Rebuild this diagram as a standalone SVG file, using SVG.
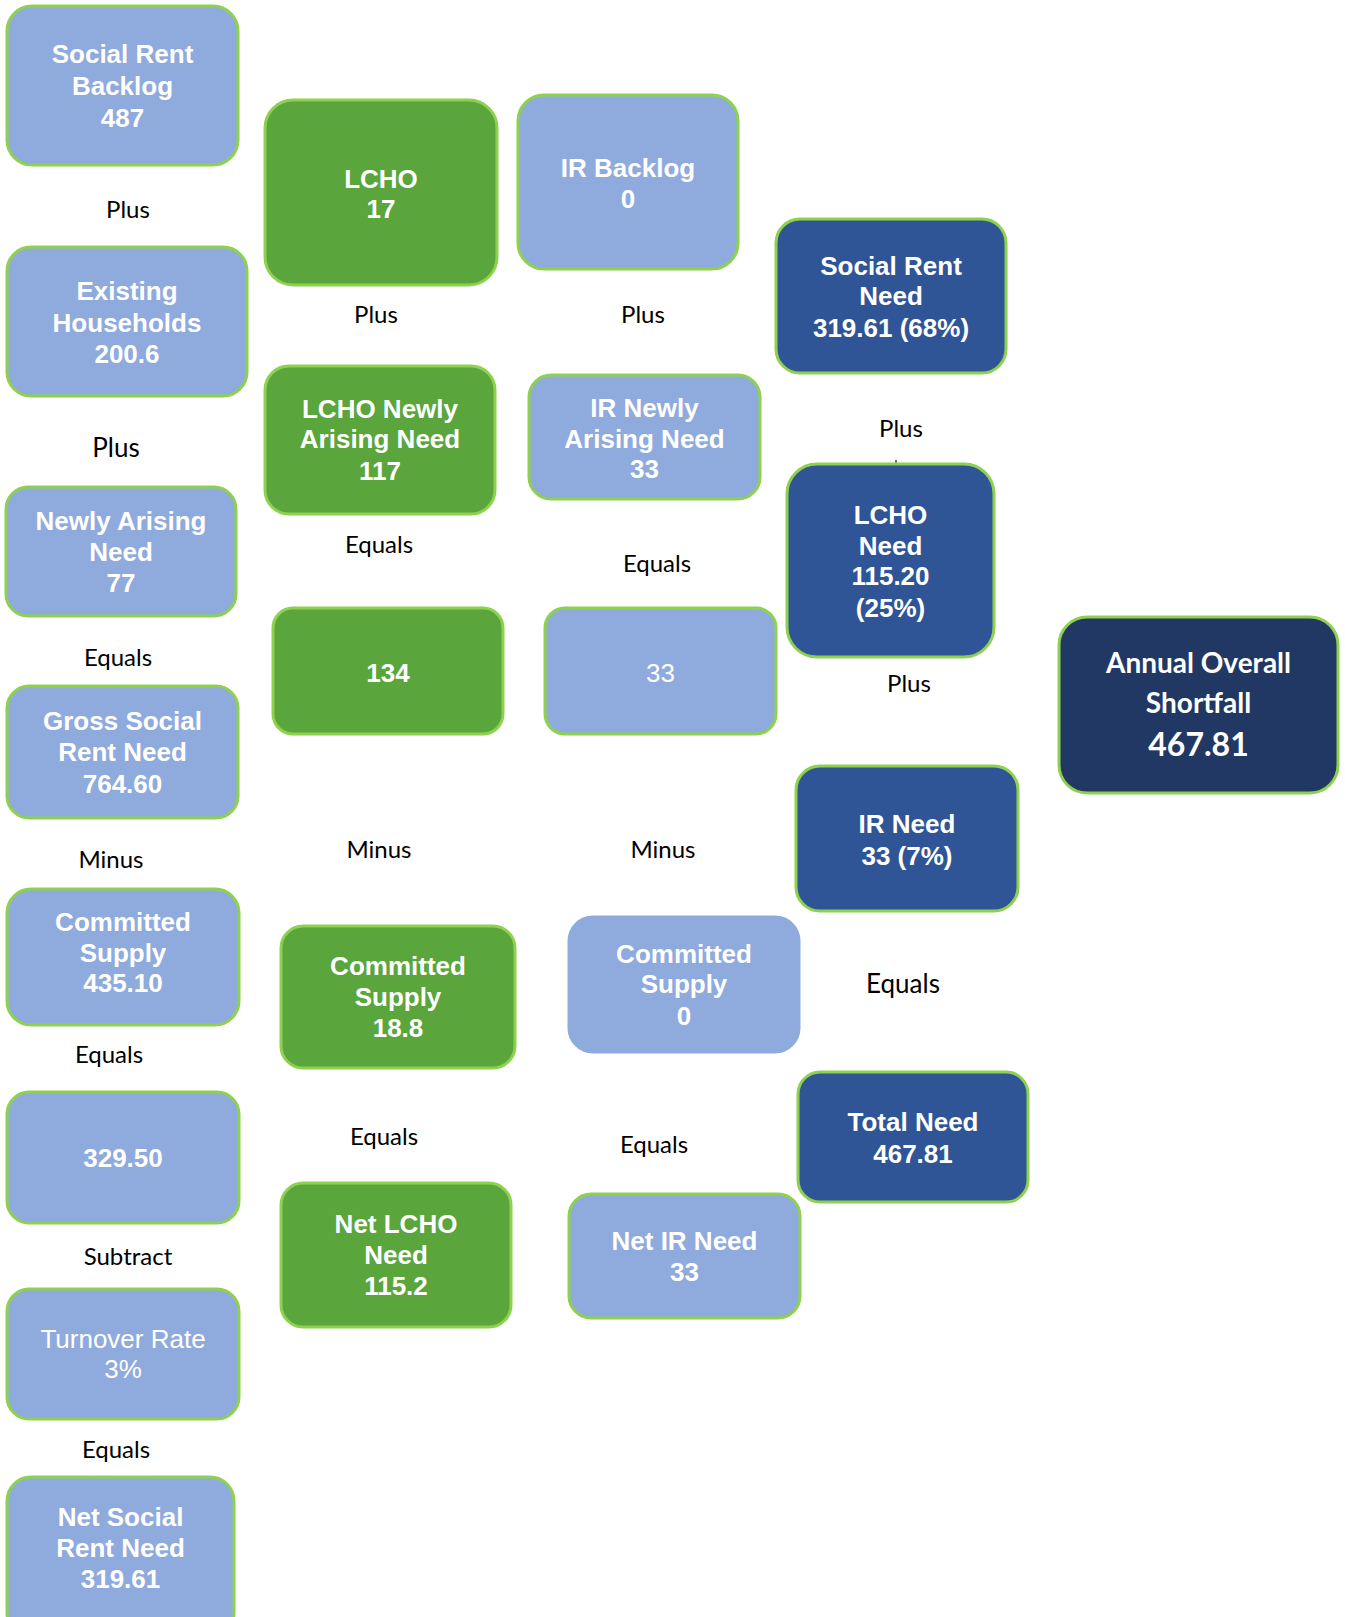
<svg xmlns="http://www.w3.org/2000/svg" width="1345" height="1617" viewBox="0 0 1345 1617">
<style>
.b{stroke:#8ED14F;stroke-width:3}
.lb{fill:#8FAADC}
.gr{fill:#5AA53C}
.db{fill:#2F5597}
.nv{fill:#213864}
.t{font-family:"Liberation Sans",Arial,sans-serif;font-weight:bold;font-size:26px;fill:#fff;text-anchor:middle}
.n{font-weight:normal}
.c{font-family:Lato,"Open Sans",sans-serif;font-weight:bold;fill:#fff;text-anchor:middle}
.lab{font-family:Lato,"Open Sans",sans-serif;font-size:24px;fill:#000;text-anchor:middle}
</style>
<rect width="1345" height="1617" fill="#fff"/>
<g id="connectors">
<line x1="896" y1="460" x2="896" y2="464" stroke="#404040" stroke-width="1.5"/>
</g>
<g id="labels">
<text class="lab" x="128" y="218">Plus</text>
<text class="lab" x="376" y="323">Plus</text>
<text class="lab" x="643" y="323">Plus</text>
<text class="lab" x="116" y="457" style="font-size:26px">Plus</text>
<text class="lab" x="901" y="437">Plus</text>
<text class="lab" x="379" y="553">Equals</text>
<text class="lab" x="657" y="572">Equals</text>
<text class="lab" x="118" y="666">Equals</text>
<text class="lab" x="909" y="692">Plus</text>
<text class="lab" x="111" y="868">Minus</text>
<text class="lab" x="379" y="858">Minus</text>
<text class="lab" x="663" y="858">Minus</text>
<text class="lab" x="903" y="993" style="font-size:26px">Equals</text>
<text class="lab" x="109" y="1063">Equals</text>
<text class="lab" x="384" y="1145">Equals</text>
<text class="lab" x="654" y="1153">Equals</text>
<text class="lab" x="128" y="1265">Subtract</text>
<text class="lab" x="116" y="1458">Equals</text>
</g>
<g id="social-rent-backlog"><rect class="b lb" x="7" y="6" width="231" height="159" rx="25"/>
<text class="t" x="122.5" y="63">Social Rent</text><text class="t" x="122.5" y="95">Backlog</text><text class="t" x="122.5" y="127">487</text></g>
<g id="lcho"><rect class="b gr" x="265" y="100" width="232" height="185" rx="28"/>
<text class="t" x="381" y="188">LCHO</text><text class="t" x="381" y="218">17</text></g>
<g id="ir-backlog"><rect class="b lb" x="518" y="95" width="220" height="174" rx="26"/>
<text class="t" x="628" y="177">IR Backlog</text><text class="t" x="628" y="208">0</text></g>
<g id="social-rent-need"><rect class="b db" x="776" y="219" width="230" height="154" rx="24"/>
<text class="t" x="891" y="275">Social Rent</text><text class="t" x="891" y="305">Need</text><text class="t" x="891" y="337">319.61 (68%)</text></g>
<g id="existing-households"><rect class="b lb" x="7" y="247" width="240" height="149" rx="24"/>
<text class="t" x="127" y="300">Existing</text><text class="t" x="127" y="332">Households</text><text class="t" x="127" y="363">200.6</text></g>
<g id="lcho-newly-arising"><rect class="b gr" x="265" y="366" width="230" height="148" rx="24"/>
<text class="t" x="380" y="418">LCHO Newly</text><text class="t" x="380" y="448">Arising Need</text><text class="t" x="380" y="480">117</text></g>
<g id="ir-newly-arising"><rect class="b lb" x="529" y="375" width="231" height="124" rx="22"/>
<text class="t" x="644.5" y="417">IR Newly</text><text class="t" x="644.5" y="448">Arising Need</text><text class="t" x="644.5" y="478">33</text></g>
<g id="newly-arising-need"><rect class="b lb" x="6" y="487" width="230" height="129" rx="22"/>
<text class="t" x="121" y="530">Newly Arising</text><text class="t" x="121" y="561">Need</text><text class="t" x="121" y="592">77</text></g>
<g id="lcho-need"><rect class="b db" x="787" y="464" width="207" height="193" rx="30"/>
<text class="t" x="890.5" y="524">LCHO</text><text class="t" x="890.5" y="555">Need</text><text class="t" x="890.5" y="585">115.20</text><text class="t" x="890.5" y="617">(25%)</text></g>
<g id="lcho-total"><rect class="b gr" x="273" y="608" width="230" height="126" rx="20"/>
<text class="t" x="388" y="682">134</text></g>
<g id="ir-total"><rect class="b lb" x="545" y="608" width="231" height="126" rx="20"/>
<text class="t n" x="660.5" y="682">33</text></g>
<g id="annual-overall-shortfall"><rect class="b nv" x="1059" y="617" width="279" height="176" rx="28"/>
<text class="c" x="1198.5" y="673" font-size="28">Annual Overall</text><text class="c" x="1198.5" y="713" font-size="28">Shortfall</text><text class="c" x="1198.5" y="756" font-size="32">467.81</text></g>
<g id="gross-social-rent-need"><rect class="b lb" x="7" y="686" width="231" height="132" rx="22"/>
<text class="t" x="122.5" y="730">Gross Social</text><text class="t" x="122.5" y="761">Rent Need</text><text class="t" x="122.5" y="793">764.60</text></g>
<g id="ir-need"><rect class="b db" x="796" y="766" width="222" height="145" rx="24"/>
<text class="t" x="907" y="833">IR Need</text><text class="t" x="907" y="865">33 (7%)</text></g>
<g id="committed-supply-sr"><rect class="b lb" x="7" y="889" width="232" height="136" rx="24"/>
<text class="t" x="123" y="931">Committed</text><text class="t" x="123" y="962">Supply</text><text class="t" x="123" y="992">435.10</text></g>
<g id="committed-supply-lcho"><rect class="b gr" x="281" y="926" width="234" height="142" rx="22"/>
<text class="t" x="398" y="975">Committed</text><text class="t" x="398" y="1006">Supply</text><text class="t" x="398" y="1037">18.8</text></g>
<g id="committed-supply-ir"><rect class="lb" x="569" y="917" width="230" height="135" rx="24" stroke="#8FAADC" stroke-width="3"/>
<text class="t" x="684" y="963">Committed</text><text class="t" x="684" y="993">Supply</text><text class="t" x="684" y="1025">0</text></g>
<g id="total-need"><rect class="b db" x="798" y="1072" width="230" height="130" rx="22"/>
<text class="t" x="913" y="1131">Total Need</text><text class="t" x="913" y="1163">467.81</text></g>
<g id="sr-after-supply"><rect class="b lb" x="7" y="1092" width="232" height="131" rx="22"/>
<text class="t" x="123" y="1167">329.50</text></g>
<g id="net-lcho-need"><rect class="b gr" x="281" y="1183" width="230" height="144" rx="22"/>
<text class="t" x="396" y="1233">Net LCHO</text><text class="t" x="396" y="1264">Need</text><text class="t" x="396" y="1295">115.2</text></g>
<g id="net-ir-need"><rect class="b lb" x="569" y="1194" width="231" height="124" rx="22"/>
<text class="t" x="684.5" y="1250">Net IR Need</text><text class="t" x="684.5" y="1281">33</text></g>
<g id="turnover-rate"><rect class="b lb" x="7" y="1289" width="232" height="130" rx="22"/>
<text class="t n" x="123" y="1348">Turnover Rate</text><text class="t n" x="123" y="1378">3%</text></g>
<g id="net-social-rent-need"><rect class="b lb" x="7" y="1477" width="227" height="160" rx="24"/>
<text class="t" x="120.5" y="1526">Net Social</text><text class="t" x="120.5" y="1557">Rent Need</text><text class="t" x="120.5" y="1588">319.61</text></g>
</svg>
